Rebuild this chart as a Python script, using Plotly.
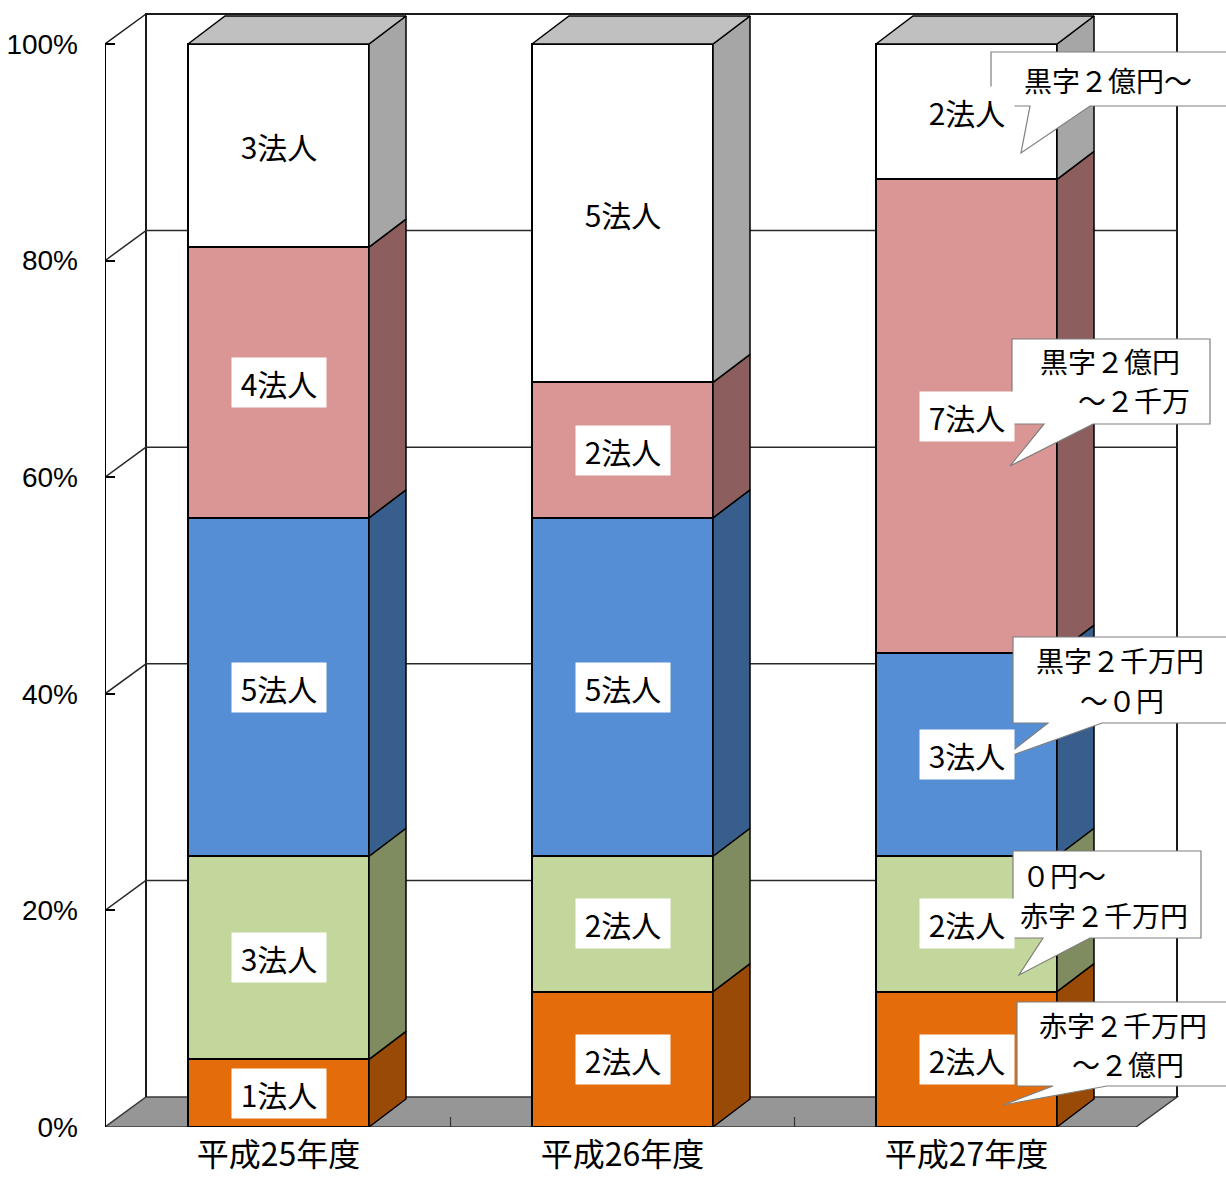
import plotly.graph_objects as go

# ---------------- data ----------------
years = ["平成25年度", "平成26年度", "平成27年度"]
categories = ["赤字２千万円～２億円", "０円～赤字２千万円", "黒字２千万円～０円",
              "黒字２億円～２千万", "黒字２億円～"]
counts_h25 = [1, 3, 5, 4, 3]
counts_h26 = [2, 2, 5, 2, 5]
counts_h27 = [2, 2, 3, 7, 2]
y_ticks = [0, 20, 40, 60, 80, 100]
y_tick_text = ["0%", "20%", "40%", "60%", "80%", "100%"]
callout_texts = [["赤字２千万円", "～２億円"], ["０円～", "赤字２千万円"], ["黒字２千万円", "～０円"],
                 ["黒字２億円", "～２千万"], ["黒字２億円～"]]

# ---------------- style ----------------
front_colors = ["#E46C0A", "#C3D69B", "#558ED5", "#D99694", "#FFFFFF"]
side_colors = ["#9A4A07", "#7F8C5F", "#375E8C", "#8C5E5D", "#A6A6A6"]
top_color = "#C0C0C0"
floor_color = "#969696"
CJK = "Noto Sans CJK JP"

W, H = 1226, 1184
ML, MB = 105, 57
PX_B = H - MB                 # pixel of 0%
YS = 10.83                    # pixels per percent
X0_PX, UNIT = 278.5, 344.0    # pixel of first category, pixels per category
XMIN = (ML - X0_PX) / UNIT
XMAX = (W - X0_PX) / UNIT
YMAX = PX_B / YS


def px2x(px):
    return (px - X0_PX) / UNIT


def py2y(py):
    return (PX_B - py) / YS


HW = 90.5 / UNIT               # half bar width
BDX, BDY = 37 / UNIT, 28 / YS  # bar depth
WDX, WDY = 41 / UNIT, 30 / YS  # wall depth
XR = px2x(1177)                # back-right of wall

all_counts = [counts_h25, counts_h26, counts_h27]
xs = list(range(len(years)))

# percentages per category
pct = []
for j in range(len(categories)):
    pct.append([all_counts[i][j] / sum(all_counts[i]) * 100 for i in xs])

fig = go.Figure()
shapes = []
# floor
shapes.append(dict(type="path", layer="below", xref="x", yref="y",
                   path=f"M{XMIN},0 L{XMIN+WDX},{WDY} L{XR},{WDY} L{XR-WDX},0 Z",
                   fillcolor=floor_color, line=dict(color="#3a3a3a", width=1.5)))
# back wall
shapes.append(dict(type="path", layer="below", xref="x", yref="y",
                   path=f"M{XMIN+WDX},{WDY} L{XMIN+WDX},{100+WDY} L{XR},{100+WDY} L{XR},{WDY}",
                   fillcolor="rgba(0,0,0,0)", line=dict(color="#1a1a1a", width=2)))
# left wall top diagonal
shapes.append(dict(type="line", layer="below", xref="x", yref="y",
                   x0=XMIN, y0=100, x1=XMIN + WDX, y1=100 + WDY,
                   line=dict(color="#1a1a1a", width=1.5)))
# gridlines
for t in y_ticks[1:-1]:
    shapes.append(dict(type="line", layer="below", xref="x", yref="y",
                       x0=XMIN + WDX, y0=t + WDY, x1=XR, y1=t + WDY,
                       line=dict(color="#2a2a2a", width=1.5)))
    shapes.append(dict(type="line", layer="below", xref="x", yref="y",
                       x0=XMIN, y0=t, x1=XMIN + WDX, y1=t + WDY,
                       line=dict(color="#2a2a2a", width=1.5)))
# y axis line
shapes.append(dict(type="line", layer="below", xref="x", yref="y",
                   x0=XMIN, y0=0, x1=XMIN, y1=100, line=dict(color="#000", width=2)))
# category boundary ticks on floor front
for b in [0.5, 1.5]:
    shapes.append(dict(type="line", layer="above", xref="x", yref="y",
                       x0=b, y0=0, x1=b, y1=10 / YS, line=dict(color="#333", width=1.2)))

# front faces as stacked bars
for j, cat in enumerate(categories):
    fig.add_trace(go.Bar(x=xs, y=pct[j], width=2 * HW, name=cat,
                         marker=dict(color=front_colors[j], line=dict(color="#000", width=2)),
                         showlegend=False, hoverinfo="skip"))

# side faces and top faces
for i in xs:
    base = 0.0
    for j in range(len(categories)):
        y0, y1 = base, base + pct[j][i]
        xr = i + HW
        fig.add_trace(go.Scatter(
            x=[xr, xr + BDX, xr + BDX, xr, xr],
            y=[y0, y0 + BDY, y1 + BDY, y1, y0],
            fill="toself", fillcolor=side_colors[j], mode="lines",
            line=dict(color="#000", width=1.5), showlegend=False, hoverinfo="skip"))
        base = y1
    fig.add_trace(go.Scatter(
        x=[i - HW, i - HW + BDX, i + HW + BDX, i + HW, i - HW],
        y=[base, base + BDY, base + BDY, base, base],
        fill="toself", fillcolor=top_color, mode="lines",
        line=dict(color="#000", width=1.5), showlegend=False, hoverinfo="skip"))

annotations = []
# segment labels
for i in xs:
    base = 0.0
    for j in range(len(categories)):
        mid = base + pct[j][i] / 2
        annotations.append(dict(x=i, y=mid, xref="x", yref="y", showarrow=False,
                                text=f"{all_counts[i][j]}法人",
                                font=dict(family=CJK, size=30, color="#000"),
                                bgcolor="#FFFFFF", width=88, height=43, borderpad=3))
        base += pct[j][i]

# callouts (pointing at segments of the last bar); geometry in pixels
callout_geom = [
    # box L, T, R, B, tail base L, tail base R, tip x, tip y, anchor, line positions
    (1017, 1002, 1240, 1086, 1053, 1107, 1003, 1105, "center", [(1123, 1025), (1128, 1064)]),
    (1013, 851, 1201, 938, 1043, 1090, 1019, 975, "left", [(1020, 875), (1018, 915)]),
    (1013, 637, 1240, 723, 1048, 1102, 1002, 759, "center", [(1120, 660), (1122, 700)]),
    (1012, 339, 1210, 424, 1044, 1093, 1010, 466, "center", [(1110, 361), (1134, 400)]),
    (991, 52, 1240, 106, 1030, 1090, 1021, 153, "center", [(1108, 80)]),
]
for k, (L, T, R, B, bl, br, tx, ty, anc, lines) in enumerate(callout_geom):
    pts = [(L, T), (R, T), (R, B), (br, B), (tx, ty), (bl, B), (L, B)]
    path = "M" + " L".join(f"{px2x(a)},{py2y(b)}" for a, b in pts) + " Z"
    shapes.append(dict(type="path", layer="above", xref="x", yref="y", path=path,
                       fillcolor="#FFFFFF", line=dict(color="#7F7F7F", width=1.2)))
    for txt, (lx, ly) in zip(callout_texts[k], lines):
        annotations.append(dict(x=px2x(lx), y=py2y(ly), xref="x", yref="y",
                                showarrow=False, text=txt, xanchor=anc, yanchor="middle",
                                font=dict(family=CJK, size=28, color="#000")))

fig.update_layout(
    width=W, height=H, barmode="stack", bargap=0,
    margin=dict(l=ML, r=0, t=0, b=MB, autoexpand=False),
    paper_bgcolor="#FFFFFF", plot_bgcolor="rgba(0,0,0,0)",
    shapes=shapes, annotations=annotations, showlegend=False,
    xaxis=dict(range=[XMIN, XMAX], tickvals=xs, ticktext=years, showgrid=False,
               zeroline=False, showline=False, ticks="", automargin=False,
               tickfont=dict(family=CJK, size=32, color="#000"), ticklabelstandoff=6),
    yaxis=dict(range=[0, YMAX], tickvals=y_ticks, ticktext=y_tick_text, showgrid=False,
               zeroline=False, showline=False, ticks="inside", ticklen=10, tickwidth=1.5,
               tickcolor="#000", ticklabelstandoff=26, automargin=False,
               tickfont=dict(family="Liberation Sans, Arial", size=28, color="#000")),
)

fig.write_html("out.html")
